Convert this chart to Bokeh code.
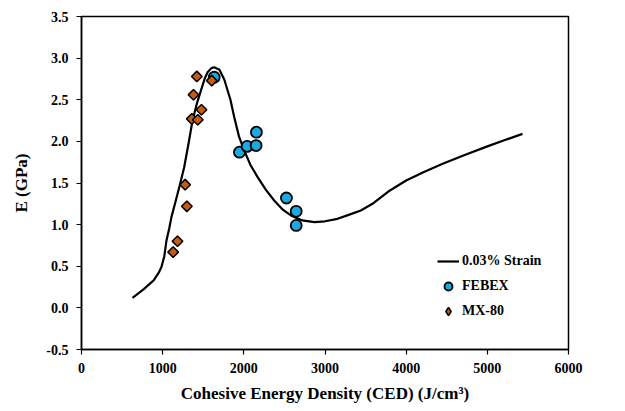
import math
from bokeh.plotting import figure
from bokeh.models import FixedTicker, NumeralTickFormatter, Legend, LegendItem, ColumnDataSource, Range1d
from bokeh.embed import file_html
from bokeh.resources import INLINE

# Model curve (0.03% strain)
curve_x = [628, 760, 889, 950, 985, 1020, 1047, 1080, 1108, 1162, 1210, 1265, 1320, 1368, 1420,
           1471, 1520, 1554, 1600, 1635, 1700, 1760, 1835, 1882, 1940, 2005, 2080, 2170, 2270,
           2374, 2480, 2580, 2720, 2870, 3000, 3155, 3300, 3442, 3600, 3800, 4000, 4212, 4450,
           4705, 5000, 5200, 5433]
curve_y = [0.12, 0.22, 0.33, 0.42, 0.49, 0.62, 0.81, 0.95, 1.09, 1.29, 1.47, 1.69, 1.98, 2.25, 2.45,
           2.61, 2.76, 2.83, 2.88, 2.89, 2.86, 2.74, 2.50, 2.29, 2.06, 1.89, 1.72, 1.57, 1.42,
           1.29, 1.18, 1.11, 1.05, 1.03, 1.04, 1.07, 1.12, 1.17, 1.26, 1.41, 1.53, 1.63, 1.73,
           1.83, 1.94, 2.01, 2.09]

# FEBEX
febex_x = [1635, 2155, 1946, 2040, 2151, 2525, 2645, 2645]
febex_y = [2.77, 2.11, 1.87, 1.94, 1.95, 1.32, 1.16, 0.99]

# MX-80
mx80_x = [1421, 1605, 1380, 1478, 1359, 1433, 1277, 1298, 1183, 1129]
mx80_y = [2.78, 2.73, 2.56, 2.38, 2.27, 2.26, 1.48, 1.22, 0.80, 0.67]

x_ticks = [0, 1000, 2000, 3000, 4000, 5000, 6000]
y_ticks = [-0.5, 0.0, 0.5, 1.0, 1.5, 2.0, 2.5, 3.0, 3.5]

FONT = "Times New Roman, Liberation Serif, serif"
BLUE = "#1AAAE2"
ORANGE = "#C55A11"

p = figure(width=625, height=411, output_backend="svg", toolbar_location=None,
           x_range=Range1d(0, 6000), y_range=Range1d(-0.5, 3.5),
           min_border_left=81, min_border_right=57, min_border_top=16, min_border_bottom=62)
p.xgrid.visible = False
p.ygrid.visible = False
p.outline_line_color = "black"
p.outline_line_width = 1.5
p.background_fill_color = "white"
p.border_fill_color = "white"

line_r = p.line(curve_x, curve_y, line_color="black", line_width=2.2)
feb_r = p.scatter(febex_x, febex_y, marker="circle", size=11, fill_color=BLUE,
                  line_color="black", line_width=1.8)
mx_r = p.scatter(mx80_x, mx80_y, marker="square", angle=math.pi / 4, size=7.5,
                 fill_color=ORANGE, line_color="black", line_width=1.5)

# Legend-only renderers (smaller markers, nothing drawn in the plot)
nan_src = ColumnDataSource(data=dict(x=[float("nan")], y=[float("nan")]))
feb_leg = p.scatter("x", "y", source=nan_src, marker="circle", size=8.5, fill_color=BLUE,
                    line_color="black", line_width=1.8)
mx_leg = p.scatter("x", "y", source=nan_src, marker="diamond", size=10.5,
                   fill_color=ORANGE, line_color="black", line_width=1.5)

legend = Legend(items=[LegendItem(label="0.03% Strain", renderers=[line_r]),
                       LegendItem(label="FEBEX", renderers=[feb_leg]),
                       LegendItem(label="MX-80", renderers=[mx_leg])],
                location=(356, 28), border_line_color=None, background_fill_alpha=0,
                padding=0, margin=0, spacing=5, glyph_width=22, glyph_height=20,
                label_height=20, label_standoff=3,
                label_text_font=FONT, label_text_font_style="bold",
                label_text_font_size="14px", label_text_color="black")
p.add_layout(legend, "center")

for ax in (p.xaxis[0], p.yaxis[0]):
    ax.axis_line_width = 1.5
    ax.axis_line_color = "black"
    ax.major_tick_out = 5
    ax.major_tick_in = 0
    ax.major_tick_line_width = 1.2
    ax.minor_tick_out = 0
    ax.minor_tick_in = 0
    ax.major_label_text_font = FONT
    ax.major_label_text_font_style = "bold"
    ax.major_label_text_font_size = "14px"
    ax.major_label_text_color = "black"
    ax.axis_label_text_font = FONT
    ax.axis_label_text_font_style = "bold"
    ax.axis_label_text_font_size = "17px"
    ax.axis_label_text_color = "black"

p.xaxis[0].ticker = FixedTicker(ticks=x_ticks)
p.yaxis[0].ticker = FixedTicker(ticks=y_ticks)
p.yaxis[0].formatter = NumeralTickFormatter(format="0.0")
p.xaxis[0].axis_label = "Cohesive Energy Density (CED) (J/cm\u00b3)"
p.yaxis[0].axis_label = "E (GPa)"
p.xaxis[0].major_label_standoff = 8
p.yaxis[0].major_label_standoff = 8
p.xaxis[0].axis_label_standoff = 8
p.yaxis[0].axis_label_standoff = 12

open("out.html", "w").write(file_html(p, INLINE))
